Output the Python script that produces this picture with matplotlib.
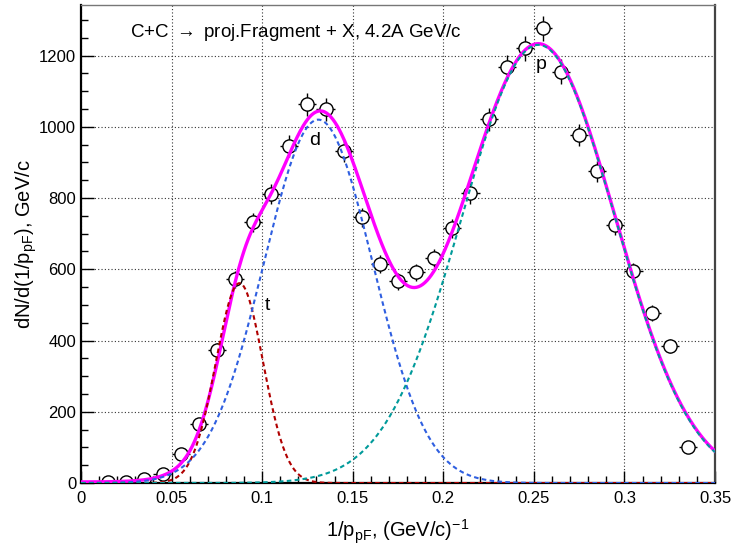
import numpy as np
import matplotlib.pyplot as plt
from matplotlib.ticker import MultipleLocator

plt.rcParams['font.family'] = ['Liberation Sans', 'DejaVu Sans']
plt.rcParams['mathtext.fontset'] = 'custom'
plt.rcParams['mathtext.rm'] = 'Liberation Sans'
plt.rcParams['mathtext.it'] = 'Liberation Sans:italic'

# measured points (bin centres, counts, errors)
x_pts = [0.015, 0.025, 0.035, 0.045, 0.055, 0.065, 0.075, 0.085, 0.095, 0.105,
         0.115, 0.125, 0.135, 0.145, 0.155, 0.165, 0.175, 0.185, 0.195, 0.205,
         0.215, 0.225, 0.235, 0.245, 0.255, 0.265, 0.275, 0.285, 0.295, 0.305,
         0.315, 0.325, 0.335]
y_pts = [3, 3, 12, 25, 81, 165, 373, 572, 732, 811,
         945, 1063, 1049, 931, 746, 614, 566, 592, 631, 715,
         813, 1021, 1167, 1220, 1276, 1155, 976, 875, 723, 594,
         477, 384, 101]
y_err = [2, 2, 3, 5, 9, 13, 19, 24, 27, 28,
         31, 33, 32, 31, 27, 25, 24, 24, 25, 27,
         29, 32, 34, 35, 36, 34, 31, 30, 27, 24,
         22, 20, 10]
x_halfbin = 0.005

# gaussian fit components: (amplitude, mean, sigma)
fit_t = (561, 0.0875, 0.013)
fit_d = (1020, 0.131, 0.030)
fit_p = (1230, 0.2525, 0.0423)
# t contribution inside the total fit curve
fit_t_total = (250, 0.088, 0.013)
fit_const = 3


def gaus(x, par):
    a, m, s = par
    return a * np.exp(-0.5 * ((x - m) / s) ** 2)


xs = np.linspace(0, 0.35, 600)
total = gaus(xs, fit_t_total) + gaus(xs, fit_d) + gaus(xs, fit_p) + fit_const

fig = plt.figure(figsize=(7.35, 5.5), dpi=100)
ax = fig.add_axes([0.1102, 0.1218, 0.8626, 0.8692])

# error bars first, then hollow-looking markers, fit curves on top
ax.errorbar(x_pts, y_pts, yerr=y_err, xerr=x_halfbin, fmt='none',
            ecolor='black', elinewidth=1.0, capsize=0, zorder=2)
ax.plot(x_pts, y_pts, 'o', mfc='white', mec='black', ms=9.5, mew=1.0,
        zorder=2.5)

ax.plot(xs, total, color='#ff00ff', lw=2.4, zorder=3)
dash = (0, (2.2, 1.6))
ax.plot(xs, gaus(xs, fit_t), color='#b00000', lw=1.5, ls=dash, zorder=4)
ax.plot(xs, gaus(xs, fit_d), color='#2f5fe0', lw=1.5, ls=dash, zorder=4)
ax.plot(xs, gaus(xs, fit_p), color='#009a9a', lw=1.5, ls=dash, zorder=4)

ax.set_xlim(0, 0.35)
ax.set_ylim(0, 1342)
ax.xaxis.set_major_locator(MultipleLocator(0.05))
ax.xaxis.set_minor_locator(MultipleLocator(0.01))
ax.yaxis.set_major_locator(MultipleLocator(200))
ax.yaxis.set_minor_locator(MultipleLocator(50))
ax.set_xticks([0, 0.05, 0.1, 0.15, 0.2, 0.25, 0.3, 0.35])
ax.set_xticklabels(['0', '0.05', '0.1', '0.15', '0.2', '0.25', '0.3', '0.35'])
ax.tick_params(which='both', direction='in', labelsize=12, width=1)
ax.tick_params(which='major', length=9)
ax.tick_params(which='minor', length=5)
ax.tick_params(axis='x', pad=6)
ax.grid(True, which='major', color='#333333', ls=(0, (1, 2)), lw=0.8)
ax.set_axisbelow(True)

for s in ['left', 'bottom']:
    ax.spines[s].set_linewidth(1.6)
ax.spines['top'].set_color('#777777')
ax.spines['top'].set_linewidth(1.0)
ax.spines['right'].set_color('#444444')
ax.spines['right'].set_linewidth(1.6)

ax.set_xlabel(r'1/p$_{\mathrm{pF}}$, (GeV/c)$^{-1}$', fontsize=14.5, labelpad=8)
ax.set_ylabel(r'dN/d(1/p$_{\mathrm{pF}}$), GeV/c', fontsize=14.5, labelpad=0)

ax.text(0.027, 1264, r'C+C $\rightarrow$ proj.Fragment + X, 4.2A GeV/c',
        fontsize=13.5, ha='left', va='center')
ax.text(0.129, 962, 'd', fontsize=14, ha='center', va='center')
ax.text(0.103, 499, 't', fontsize=14, ha='center', va='center')
ax.text(0.254, 1175, 'p', fontsize=14, ha='center', va='center')

fig.savefig('out.png', dpi=100)
